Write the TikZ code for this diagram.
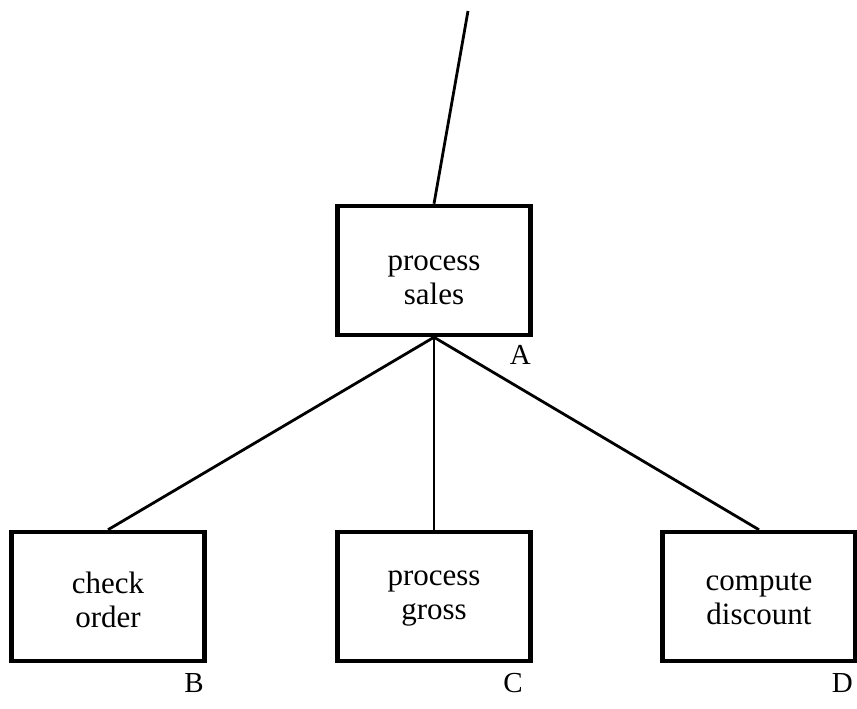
\documentclass[tikz,border=0pt]{standalone}
\usepackage{fontspec}
\setmainfont{Liberation Serif}
\begin{document}
\begin{tikzpicture}[x=1pt,y=1pt,
  box/.style={draw, line width=4.5pt, minimum width=193pt, minimum height=129pt, inner sep=0pt},
  boxtext/.style={inner sep=0pt, align=center, font=\fontsize{31}{34}\selectfont},
  conn/.style={line width=2.8pt},
  lab/.style={font=\fontsize{29}{32}\selectfont, inner sep=0pt, anchor=north east}]
\useasboundingbox (0,0) rectangle (857,709);
\node[box] (A) at (434,438.5) {};
\node[box] (B) at (108,112.5) {};
\node[box] (C) at (434,112.5) {};
\node[box] (D) at (759,112.5) {};
\node[boxtext] (At) at ([yshift=-10pt]A.center) {process\\sales};
\node[boxtext] (Bt) at ([yshift=-3pt]B.center) {check\\order};
\node[boxtext] (Ct) at ([yshift=-2pt]C.center) {process\\gross};
\node[boxtext] (Dt) at ([yshift=-2pt]D.center) {compute\\discount};
\coordinate (top) at (468,698);
\draw[conn] (A.north) -- (top);
\draw[conn] (A.south) -- (B.north);
\draw[conn] (A.south) -- (C.north);
\draw[conn] (A.south) -- (D.north);
\node[lab] (la) at (531,364) {A};
\node[lab] (lb) at (204,36) {B};
\node[lab] (lc) at (523,36) {C};
\node[lab] (ld) at (853,36) {D};
\end{tikzpicture}
\end{document}
